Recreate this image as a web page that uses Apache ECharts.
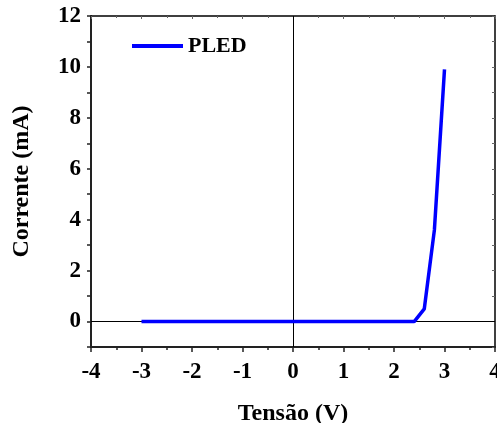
<!DOCTYPE html>
<html>
<head>
<meta charset="utf-8">
<script src="https://cdn.jsdelivr.net/npm/echarts@6/dist/echarts.min.js"></script>
<style>
  html, body { margin: 0; padding: 0; background: #fff; }
  #main { width: 497px; height: 423px; }
</style>
</head>
<body>
<div id="main"></div>
<script>
// voltage (V) and current (mA)
const voltage = [-3, -2.8, -2.6, -2.4, -2.2, -2, -1.8, -1.6, -1.4, -1.2, -1, -0.8, -0.6, -0.4, -0.2,
  0, 0.2, 0.4, 0.6, 0.8, 1, 1.2, 1.4, 1.6, 1.8, 2, 2.2, 2.4, 2.6, 2.8, 3];
const current = [0, 0, 0, 0, 0, 0, 0, 0, 0, 0, 0, 0, 0, 0, 0,
  0, 0, 0, 0, 0, 0, 0, 0, 0, 0, 0, 0, 0, 0.5, 3.6, 9.9];
const seriesName = "PLED";
const yLabels = [0, 2, 4, 6, 8, 10, 12];

const chartDom = document.getElementById("main");
const myChart = echarts.init(chartDom);

const font = "'Liberation Serif', 'Times New Roman', serif";
const axisColor = "#222";

const option = {
  animation: false,
  grid: { left: 91, right: 2, top: 16, bottom: 76, containLabel: false, outerBoundsMode: "none" },
  legend: {
    data: [seriesName],
    left: 127,
    top: 30,
    icon: "rect",
    itemWidth: 51,
    itemHeight: 4,
    itemGap: 6,
    textStyle: { fontFamily: font, fontWeight: "bold", fontSize: 22, color: "#000" },
  },
  xAxis: [
    {
      type: "value",
      min: -4,
      max: 4,
      interval: 1,
      name: "Tensão (V)",
      nameLocation: "middle",
      nameGap: 55,
      nameTextStyle: { fontFamily: font, fontWeight: "bold", fontSize: 24, color: "#000" },
      axisLine: { show: true, onZero: false, lineStyle: { color: axisColor, width: 2 } },
      axisTick: { show: true, inside: false, length: 5, lineStyle: { color: axisColor, width: 1.5 } },
      minorTick: { show: true, splitNumber: 2, length: 3, lineStyle: { color: axisColor, width: 1.5 } },
      axisLabel: { fontFamily: font, fontWeight: "bold", fontSize: 23, color: "#000", margin: 14 },
      splitLine: { show: false },
    },
    {
      type: "value",
      position: "top",
      min: -4,
      max: 4,
      interval: 1,
      axisLine: { show: true, onZero: false, lineStyle: { color: "#000", width: 1.5 } },
      axisTick: { show: true, inside: true, length: 3, lineStyle: { color: "#666", width: 1 } },
      minorTick: { show: true, splitNumber: 2, length: 2, lineStyle: { color: "#666", width: 1 } },
      axisLabel: { show: false },
      splitLine: { show: false },
    },
  ],
  yAxis: [
    {
      type: "value",
      min: -1,
      max: 12,
      interval: 1,
      name: "Corrente (mA)",
      nameLocation: "middle",
      nameGap: 57,
      nameTextStyle: { fontFamily: font, fontWeight: "bold", fontSize: 24, color: "#000" },
      axisLine: { show: true, onZero: false, lineStyle: { color: axisColor, width: 2 } },
      axisTick: { show: true, inside: false, length: 4, lineStyle: { color: axisColor, width: 1.5 } },
      axisLabel: {
        fontFamily: font,
        fontWeight: "bold",
        fontSize: 23,
        color: "#000",
        margin: 10,
        formatter: (v) => (yLabels.includes(v) ? String(v) : ""),
      },
      splitLine: { show: false },
    },
    {
      type: "value",
      position: "right",
      min: -1,
      max: 12,
      interval: 1,
      axisLine: { show: true, onZero: false, lineStyle: { color: "#000", width: 1.5 } },
      axisTick: { show: true, inside: true, length: 3, lineStyle: { color: "#666", width: 1 } },
      axisLabel: { show: false },
      splitLine: { show: false },
    },
  ],
  series: [
    {
      name: seriesName,
      type: "line",
      data: voltage.map((v, i) => [v, current[i]]),
      showSymbol: false,
      symbol: "none",
      lineStyle: { color: "#0000ff", width: 3.5 },
      itemStyle: { color: "#0000ff" },
      z: 3,
      markLine: {
        silent: true,
        symbol: "none",
        label: { show: false },
        lineStyle: { color: "#000", width: 1, type: "solid" },
        data: [{ xAxis: 0 }, { yAxis: 0 }],
        z: 1,
      },
    },
  ],
};

myChart.setOption(option);
</script>
</body>
</html>
